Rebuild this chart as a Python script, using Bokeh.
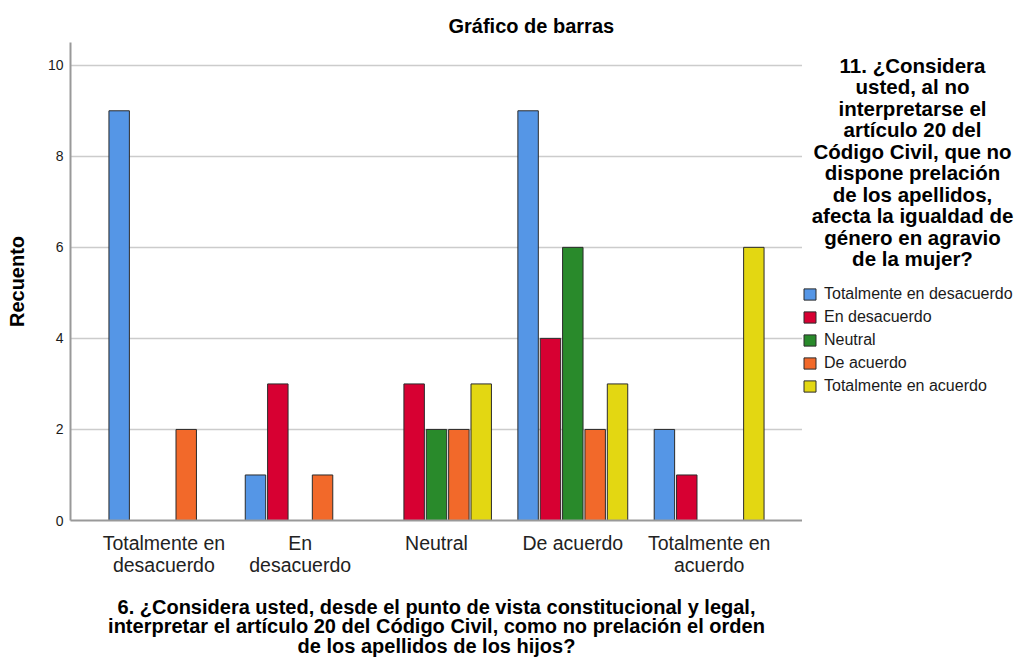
import math
from bokeh.plotting import figure
from bokeh.layouts import row
from bokeh.models import (ColumnDataSource, Range1d, FixedTicker, Label, Legend, LegendItem)
from bokeh.embed import file_html
from bokeh.resources import INLINE

# ---------------- data ----------------
categories = ["Totalmente en desacuerdo", "En desacuerdo", "Neutral", "De acuerdo", "Totalmente en acuerdo"]
tick_labels = ["Totalmente en\ndesacuerdo", "En\ndesacuerdo", "Neutral", "De acuerdo", "Totalmente en\nacuerdo"]
series_names = ["Totalmente en desacuerdo", "En desacuerdo", "Neutral", "De acuerdo", "Totalmente en acuerdo"]
s_totalmente_desacuerdo = [9, 1, 0, 9, 2]
s_en_desacuerdo = [0, 3, 3, 4, 1]
s_neutral = [0, 0, 2, 6, 0]
s_de_acuerdo = [2, 1, 2, 2, 0]
s_totalmente_acuerdo = [0, 0, 3, 3, 6]
series_values = [s_totalmente_desacuerdo, s_en_desacuerdo, s_neutral, s_de_acuerdo, s_totalmente_acuerdo]
y_ticks = [0, 2, 4, 6, 8, 10]

title_text = "Gráfico de barras"
y_title = "Recuento"
x_title_lines = [
    "6. ¿Considera usted, desde el punto de vista constitucional y legal,",
    "interpretar el artículo 20 del Código Civil, como no prelación el orden",
    "de los apellidos de los hijos?",
]
legend_title_lines = [
    "11. ¿Considera",
    "usted, al no",
    "interpretarse el",
    "artículo 20 del",
    "Código Civil, que no",
    "dispone prelación",
    "de los apellidos,",
    "afecta la igualdad de",
    "género en agravio",
    "de la mujer?",
]

# ---------------- styles ----------------
colors = ["#5596E6", "#D70032", "#298A2B", "#F2692A", "#E3D712"]
FONT = "Liberation Sans"

X0, X1 = -0.685, 4.685
Y0, Y1 = 0, 10.5
FRAME_L, FRAME_T, FRAME_W, FRAME_H = 70, 42, 732, 478
H = 660
BORDER_B = H - FRAME_T - FRAME_H
FRAME_B = FRAME_T + FRAME_H          # 520
W_MAIN = FRAME_L + FRAME_W          # 802
W_SIDE = 214

p = figure(width=W_MAIN, height=H, output_backend="svg", toolbar_location=None,
           x_range=Range1d(X0, X1), y_range=Range1d(Y0, Y1),
           min_border_left=FRAME_L, min_border_top=FRAME_T,
           min_border_right=0, min_border_bottom=BORDER_B)
p.outline_line_color = None

# title
p.title.text = title_text
p.title.align = "left"
p.title.offset = 448 - FRAME_L
p.title.text_font = FONT
p.title.text_font_size = "20px"
p.title.text_font_style = "bold"
p.title.text_color = "black"
p.title.standoff = 12

# bars
step = 0.164
bar_w = 0.15
for i, (name, vals) in enumerate(zip(series_names, series_values)):
    off = (i - 2) * step
    xs = [j + off for j, v in enumerate(vals) if v > 0]
    tops = [v for v in vals if v > 0]
    src = ColumnDataSource(dict(x=xs, top=tops))
    p.vbar(x="x", top="top", width=bar_w, bottom=0, source=src,
           fill_color=colors[i], line_color="#2b2b2b", line_width=1)

# axes / grid
p.xgrid.visible = False
p.ygrid.ticker = FixedTicker(ticks=y_ticks)
p.ygrid.grid_line_color = "#cccccc"
p.ygrid.grid_line_width = 1.5

p.yaxis.ticker = FixedTicker(ticks=y_ticks)
p.xaxis.ticker = FixedTicker(ticks=list(range(len(categories))))
p.xaxis.major_label_overrides = {i: t for i, t in enumerate(tick_labels)}
for ax in (p.xaxis[0], p.yaxis[0]):
    ax.axis_line_color = "#999999"
    ax.axis_line_width = 2
    ax.major_tick_in = 0
    ax.major_tick_out = 0
    ax.minor_tick_line_color = None
    ax.major_tick_line_color = None
    ax.axis_label_text_font = FONT
    ax.axis_label_text_font_style = "bold"
    ax.axis_label_text_font_size = "20px"
    ax.axis_label_text_color = "black"

p.yaxis.major_label_text_font = FONT
p.yaxis.major_label_text_font_size = "14px"
p.yaxis.major_label_text_color = "#1a1a1a"
p.yaxis.major_label_standoff = 7
p.yaxis.axis_label = y_title
p.yaxis.axis_label_standoff = 17

p.xaxis.major_label_text_font = FONT
p.xaxis.major_label_text_font_size = "19.5px"
p.xaxis.major_label_text_color = "#222222"
p.xaxis.major_label_text_line_height = 1.0
p.xaxis.major_label_standoff = 11
p.xaxis.axis_label = "\n".join(x_title_lines)
p.xaxis.axis_label_text_line_height = 0.9
p.xaxis.axis_label_text_align = "center"
p.xaxis.axis_label_standoff = 17

# ---------------- side panel: legend ----------------
q = figure(width=W_SIDE, height=H, output_backend="svg", toolbar_location=None,
           x_range=Range1d(0, W_SIDE), y_range=Range1d(0, 1),
           x_axis_type=None, y_axis_type=None,
           min_border_left=0, min_border_right=0,
           min_border_top=FRAME_T, min_border_bottom=BORDER_B)
q.outline_line_color = None

items = []
for i, name in enumerate(series_names):
    # a single NaN point: nothing is drawn in the panel, only the legend swatch
    r = q.vbar(x=[float("nan")], bottom=[float("nan")], top=[float("nan")], width=1,
               fill_color=colors[i], line_color="#2b2b2b", line_width=1)
    items.append(LegendItem(label=name, renderers=[r]))
legend = Legend(items=items, location=(0, FRAME_B - 396), orientation="vertical",
                glyph_width=15, glyph_height=14, label_height=20, spacing=3, label_standoff=7,
                label_text_font=FONT, label_text_font_size="16px", label_text_color="#1a1a1a",
                padding=0, margin=0, border_line_color=None, background_fill_alpha=0)
q.add_layout(legend)

# legend title, placed in panel pixels (origin bottom-left of the side frame)
for k, line in enumerate(legend_title_lines):
    q.add_layout(Label(x=912 - W_MAIN, y=FRAME_B - (64.5 + 21.5 * k), x_units="screen", y_units="screen",
                       text=line, text_align="center", text_baseline="alphabetic", text_font=FONT,
                       text_font_style="bold", text_font_size="20.5px", text_color="black"))

layout = row(p, q, spacing=0)
open("out.html", "w").write(file_html(layout, INLINE))
